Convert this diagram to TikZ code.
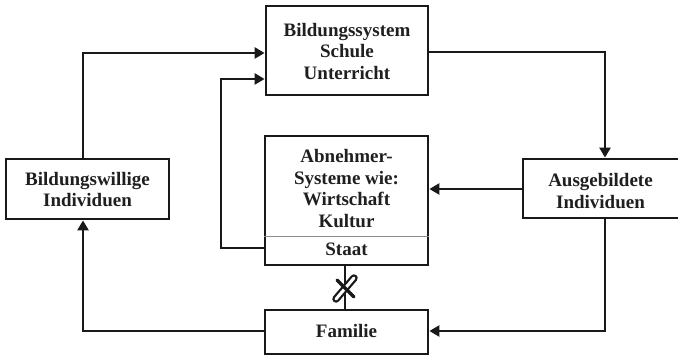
\documentclass[tikz,border=0pt]{standalone}
\usepackage{fontspec}
\setmainfont{Liberation Serif}
\usetikzlibrary{arrows.meta}
\begin{document}
\begin{tikzpicture}[x=1pt,y=-1pt,
  box/.style={draw=black!90, line width=2.8pt, fill=white, inner sep=0pt},
  lbl/.style={font=\fontsize{19}{21.5}\selectfont\bfseries, text=black!88, align=center, inner sep=0pt},
  conn/.style={line width=2.8pt, draw=black!90},
  arr/.style={conn, -{Triangle[length=10pt,width=11pt]}}]
\clip (0,0) rectangle (678,355);
\fill[white] (0,0) rectangle (678,355);
% boxes
\node[box, minimum width=162pt, minimum height=89pt] (bil) at (347,50.5) {};
\node[lbl] at (347,51.5) {Bildungssystem\\Schule\\Unterricht};
\node[box, minimum width=163pt, minimum height=129pt] (abn) at (346.5,200.5) {};
\node[lbl] (abnt) at (346.5,188.5) {Abnehmer-\\Systeme wie:\\Wirtschaft\\Kultur};
\node[lbl] (staat) at (346.5,249) {Staat};
\coordinate (dl) at (abn.west |- 0,236);
\coordinate (dr) at (abn.east |- 0,236);
\draw[black!45, line width=0.9pt] (dl) -- (dr);
\node[box, minimum width=163pt, minimum height=60pt] (bw) at (87.5,189) {};
\node[lbl] at (87.5,189.5) {Bildungswillige\\Individuen};
\node[box, minimum width=160pt, minimum height=59pt] (aus) at (603,188.5) {};
\node[lbl] at (600.5,191) {Ausgebildete\\Individuen};
\node[box, minimum width=163pt, minimum height=44pt] (fam) at (346.5,332) {};
\node[lbl] at (346.5,331.5) {Familie};
% connectors
\coordinate (c1) at (83,53);
\draw[arr] (bw.north -| c1) -- (c1) -- (bil.west |- c1);
\coordinate (c2) at (221,248);
\coordinate (c3) at (221,79);
\draw[arr] (abn.west |- c2) -- (c2) -- (c3) -- (bil.west |- c3);
\coordinate (c4) at (605,52);
\draw[arr] (bil.east |- c4) -- (c4) -- (aus.north -| c4);
\coordinate (c5) at (0,189);
\draw[arr] (aus.west |- c5) -- (abn.east |- c5);
\coordinate (c6) at (605,331);
\draw[arr] (aus.south -| c6) -- (c6) -- (fam.east |- c6);
\coordinate (c7) at (83,331);
\draw[arr] (fam.west |- c7) -- (c7) -- (bw.south -| c7);
\coordinate (c8) at (345,0);
\draw[conn] (abn.south -| c8) -- (fam.north -| c8);
% broken-link mark
\coordinate (x1) at (336,299);
\coordinate (x2) at (354,278);
\coordinate (x3) at (337,280);
\coordinate (x4) at (354,297);
\draw[line width=7.5pt, line cap=round, black!90] (x1) -- (x2);
\draw[line width=3pt, line cap=round, white] (x1) -- (x2);
\draw[line width=3.2pt, line cap=round, black!90] (x3) -- (x4);
\end{tikzpicture}
\end{document}
